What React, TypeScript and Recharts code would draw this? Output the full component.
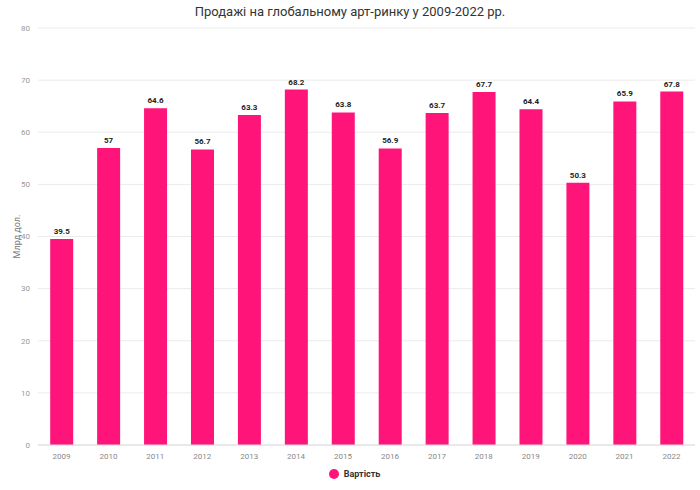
import React from "react";
import { BarChart, Bar, XAxis, YAxis, CartesianGrid, Legend, LabelList } from "recharts";

const years = ["2009", "2010", "2011", "2012", "2013", "2014", "2015", "2016", "2017", "2018", "2019", "2020", "2021", "2022"];
const values = [39.5, 57, 64.6, 56.7, 63.3, 68.2, 63.8, 56.9, 63.7, 67.7, 64.4, 50.3, 65.9, 67.8];
const yTicks = [0, 10, 20, 30, 40, 50, 60, 70, 80];

const data = years.map((year, i) => ({ year, value: values[i] }));

const PINK = "#FF1479";
const FONT = "Roboto, 'Noto Sans', sans-serif";

function LegendContent() {
  return (
    <div style={{ display: "flex", justifyContent: "center", alignItems: "center", paddingTop: 4, paddingLeft: 14, fontFamily: FONT, fontSize: 9, fontWeight: 700, color: "#333" }}>
      <span style={{ width: 10, height: 10, borderRadius: 5, background: PINK, display: "inline-block", marginRight: 5 }} />
      Вартість
    </div>
  );
}

export default function App() {
  return (
    <div style={{ position: "absolute", left: 0, top: 0, width: 700, height: 490, background: "#fff", fontFamily: FONT }}>
      <div style={{ position: "absolute", top: 4, width: 700, textAlign: "center", fontSize: 13, color: "#333" }}>
        Продажі на глобальному арт-ринку у 2009-2022 рр.
      </div>
      <BarChart width={700} height={490} data={data} margin={{ top: 28, right: 5, bottom: 5, left: 0 }} barCategoryGap="26%">
        <CartesianGrid vertical={false} stroke="#ebebeb" />
        <XAxis dataKey="year" height={20} tickLine={false} axisLine={{ stroke: "#dcdcdc" }} tick={{ fontSize: 8, fill: "#888" }} />
        <YAxis
          width={38}
          domain={[0, 80]}
          ticks={yTicks}
          tickLine={false}
          axisLine={false}
          tick={{ fontSize: 8, fill: "#999" }}
          label={{ value: "Млрд дол.", angle: -90, position: "insideLeft", offset: 17, style: { fontSize: 9, fill: "#777", textAnchor: "middle" } }}
        />
        <Legend verticalAlign="bottom" height={20} content={<LegendContent />} />
        <Bar dataKey="value" fill={PINK} isAnimationActive={false}>
          <LabelList dataKey="value" position="top" style={{ fontSize: 8, fontWeight: 700, fill: "#222" }} />
        </Bar>
      </BarChart>
    </div>
  );
}
